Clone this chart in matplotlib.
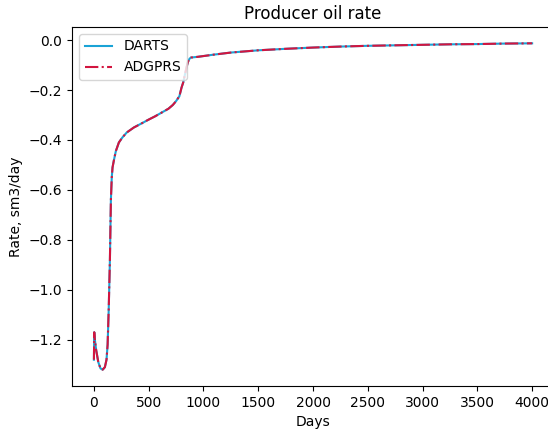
import numpy as np
import matplotlib.pyplot as plt

# producer oil rate
days = [0, 3, 6, 20, 40, 60, 80, 100, 115, 125, 135, 146, 155, 163, 170, 183,
        200, 228, 260, 300, 365, 430, 493, 560, 620, 680, 720, 749, 780, 800,
        815, 830, 845, 858, 872, 886, 950, 1000, 1100, 1250, 1500, 1750, 2000,
        2250, 2500, 2750, 3000, 3250, 3500, 3750, 4000]
rate = [-1.28, -1.17, -1.19, -1.24, -1.29, -1.315, -1.32, -1.31, -1.28, -1.22,
        -1.08, -0.88, -0.64, -0.55, -0.51, -0.48, -0.445, -0.41, -0.39, -0.37,
        -0.35, -0.335, -0.32, -0.305, -0.29, -0.275, -0.26, -0.245, -0.225,
        -0.19, -0.17, -0.14, -0.11, -0.088, -0.075, -0.07, -0.067, -0.064,
        -0.058, -0.05, -0.041, -0.035, -0.03, -0.026, -0.023, -0.021, -0.019,
        -0.017, -0.016, -0.014, -0.013]

fig = plt.figure(figsize=(5.48, 4.32), dpi=100)
ax = fig.add_axes([0.1314, 0.1065, 0.8796, 0.831])

ax.plot(days, rate, color='#1aa3d6', linestyle='-', label='DARTS')
ax.plot(days, rate, color='#d2153f', linestyle='-.', label='ADGPRS')

ax.set_xticks(np.arange(0, 4001, 500))
ax.set_title('Producer oil rate')
ax.set_xlabel('Days')
ax.set_ylabel('Rate, sm3/day')
ax.legend(loc='upper left')

fig.savefig('out.png', dpi=100)
